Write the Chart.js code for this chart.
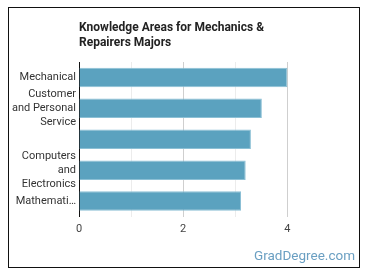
<!DOCTYPE html>
<html>
<head>
<meta charset="utf-8">
<script src="https://cdn.jsdelivr.net/npm/chart.js@4"></script>
<style>
  html, body { margin: 0; padding: 0; background: #fff; }
  #wrap { position: relative; width: 370px; height: 278px; font-family: Roboto, "Noto Sans", sans-serif; }
  #frame { position: absolute; left: 8px; top: 7px; width: 350px; height: 259px; border: 1px solid #111; box-sizing: content-box; }
  #title { position: absolute; left: 79px; top: 20px; font-size: 12px; font-weight: bold; color: #222; line-height: 15px; }
  #brand { position: absolute; right: 15px; top: 247px; font-size: 13.5px; color: #6a9fc2; }
  canvas { position: absolute; left: 0; top: 0; }
</style>
</head>
<body>
<div id="wrap">
  <div id="frame"></div>
  <canvas id="chart" width="370" height="278"></canvas>
  <div id="title">Knowledge Areas for Mechanics &amp;<br>Repairers Majors</div>
  <div id="brand">GradDegree.com</div>
</div>
<script>
// ── Data ──
const categories = [
  "Mechanical",
  ["Customer", "and Personal", "Service"],
  "",
  ["Computers", "and", "Electronics"],
  "Mathemati…",
];
const scores = [4.0, 3.51, 3.3, 3.2, 3.11];
const tickValues = [0, 1, 2, 3, 4];

const BAR_COLOR = "#5ba2bf";

new Chart(document.getElementById("chart"), {
  type: "bar",
  data: {
    labels: categories,
    datasets: [{
      data: scores,
      backgroundColor: BAR_COLOR,
      borderColor: "#8cc0d5",
      borderWidth: 1,
      barPercentage: 0.63,
      categoryPercentage: 1,
    }]
  },
  options: {
    indexAxis: "y",
    responsive: false,
    animation: false,
    layout: { padding: { left: 0, top: 62, right: 67, bottom: 41.5 } },
    plugins: { legend: { display: false }, tooltip: { enabled: false } },
    scales: {
      x: {
        min: 0,
        max: 4.3,
        afterBuildTicks: s => { s.ticks = tickValues.map(v => ({ value: v })); },
        afterFit: s => { s.height = 20; },
        border: { display: false },
        grid: {
          drawTicks: false,
          color: c => (c.tick && c.tick.value % 2 === 1) ? "#ececec" : "#cfcfcf",
        },
        ticks: {
          padding: 6,
          color: "#444",
          font: { family: "Roboto", size: 11 },
          callback: v => (v % 2 === 0 ? v : ""),
        },
      },
      y: {
        afterFit: s => { s.width = 79; },
        border: { display: true, color: "#111", width: 1 },
        grid: { display: false, drawTicks: false },
        ticks: {
          autoSkip: false,
          padding: 3,
          color: "#333",
          font: { family: "Roboto", size: 11, lineHeight: 1.27 },
        },
      },
    },
  },
});
</script>
</body>
</html>
